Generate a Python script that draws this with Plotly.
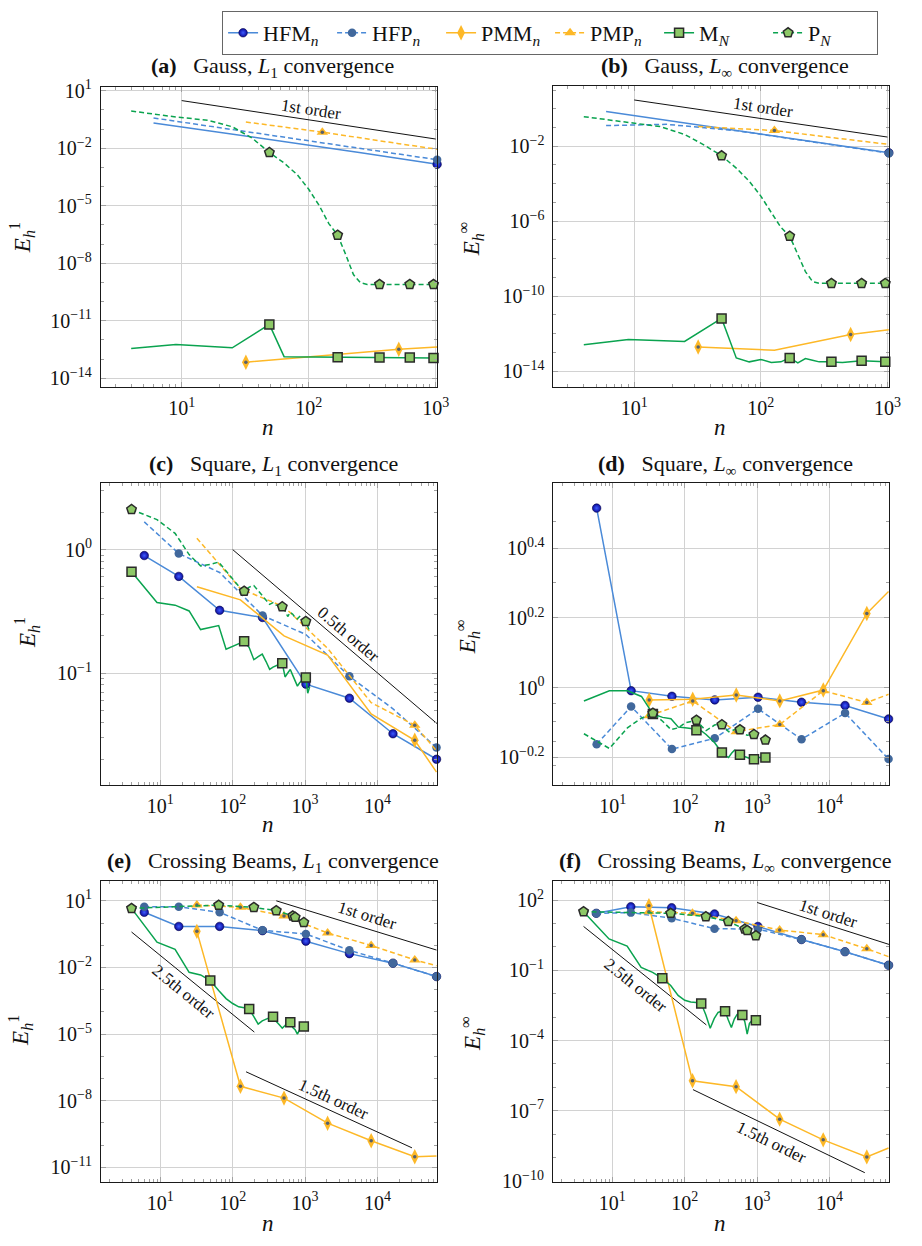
import plotly.graph_objects as go

FONT = "Liberation Serif"
BLUE = "#4a8ad8"
ORANGE = "#fdb827"
GREEN = "#0aa34f"
LGREEN = "#8dc867"
W, H = 922, 1246

# ---------------- data (n values, log10 of the error) ----------------
n_hf = [6, 18, 66, 258, 1026, 4098, 16386, 65538]
n_hf_gauss = [6, 18, 66, 258, 1026]
n_pm = [32, 128, 512, 2048, 8192, 32768, 65536]
n_pm_gauss = [32, 128, 512, 1024]
n_mn_a = [4, 9, 25, 49, 64, 169, 361, 625, 961]
n_mn_b = [4, 9, 25, 49, 64, 81, 100, 121, 144, 169, 196, 225, 256, 289, 324, 361, 441, 625, 961]
n_pn_gauss = [4, 9, 16, 25, 36, 49, 64, 81, 100, 121, 144, 169, 196, 225, 256, 289, 361, 625, 961]
n_k2 = [4, 9, 16, 25, 36, 49, 64, 81, 100, 121, 144, 169, 196, 225, 256, 289, 324, 361, 400,
        441, 484, 529, 576, 625, 676, 729, 784, 841, 900, 961, 1024, 1089, 1156, 1225, 1296]
n_mn_c = n_k2[:33]
n_mn_d = n_k2[:35]
n_mn_beams = n_k2[:30]
n_pn_beams = [4, 64, 196, 400, 676, 729, 961]

# (a) Gauss L1
a_HFM = [-0.68, -1.13, -1.67, -2.23, -2.84]
a_HFP = [-0.42, -0.89, -1.44, -2.01, -2.60]
a_PMM = [-13.16, -12.82, -12.48, -12.36]
a_PMP = [-0.63, -1.16, -1.76, -2.05]
a_MN = [-12.44, -12.24, -12.41, -11.19, -12.87, -12.90, -12.92, -12.92, -12.94]
a_PN = [-0.06, -0.37, -0.54, -0.88, -1.48, -2.22, -2.77, -3.37, -4.14, -4.99, -5.93, -6.53,
        -7.56, -8.59, -9.02, -9.10, -9.10, -9.10, -9.10]
a_ref_n = [10, 1000]
a_ref = [0.486, -1.52]

# (b) Gauss Linf
b_HFM = [-0.145, -0.617, -1.177, -1.76, -2.35]
b_HFP = [-0.896, -0.83, -1.18, -1.76, -2.37]
b_PMM = [-12.72, -12.89, -12.05, -11.79]
b_PMP = [-0.95, -1.16, -1.66, -1.90]
b_MN = [-12.60, -12.32, -12.42, -11.19, -13.30, -13.51, -13.38, -13.54, -13.51, -13.30, -13.56,
        -13.33, -13.42, -13.51, -13.51, -13.51, -13.54, -13.45, -13.51]
b_PN = [-0.42, -0.72, -0.95, -1.37, -1.95, -2.51, -3.17, -3.87, -4.66, -5.54, -6.33, -6.80,
        -7.73, -8.69, -9.22, -9.32, -9.32, -9.32, -9.32]
b_ref_n = [10, 1000]
b_ref = [0.47, -1.51]

# (c) Square L1
c_HFM = [-0.048, -0.217, -0.492, -0.550, -1.090, -1.204, -1.492, -1.699]
c_HFP = [0.225, -0.032, -0.185, -0.534, -0.688, -1.027, -1.29, -1.604]
c_PMM = [-0.301, -0.407, -0.699, -0.854, -1.332, -1.545, -1.803]
c_PMP = [0.093, -0.317, -0.463, -0.80, -1.24, -1.423, -1.63]
c_MN = [-0.180, -0.429, -0.450, -0.497, -0.648, -0.632, -0.616, -0.807, -0.783, -0.759, -0.743,
        -0.794, -0.892, -0.868, -0.847, -0.907, -0.971, -0.952, -0.937, -0.929, -0.921, -1.032,
        -1.000, -0.971, -1.019, -1.063, -1.106, -1.079, -1.058, -1.045, -1.037, -1.164, -1.111]
c_PN = [0.325, 0.243, 0.132, -0.040, -0.132, -0.119, -0.101, -0.172, -0.238, -0.296, -0.336,
        -0.304, -0.291, -0.331, -0.370, -0.410, -0.444, -0.429, -0.450, -0.455, -0.463, -0.497,
        -0.542, -0.508, -0.524, -0.550, -0.561, -0.542, -0.561, -0.577, -0.582, -0.622, -0.661]
c_ref_n = [100, 66500]
c_ref = [0.0, -1.41]

# (d) Square Linf
d_HFM = [0.515, -0.0085, -0.0245, -0.0349, -0.0273, -0.0415, -0.0509, -0.0895]
d_HFP = [-0.162, -0.0537, -0.176, -0.145, -0.0603, -0.148, -0.0726, -0.2045]
d_PMM = [-0.0349, -0.033, -0.0207, -0.0377, -0.0066, 0.213, 0.276]
d_PMP = [-0.08, -0.0377, -0.126, -0.1056, -0.0085, -0.0424, -0.0189]
d_MN = [-0.038, -0.0085, -0.0085, -0.025, -0.075, -0.085, -0.089, -0.113, -0.115, -0.117,
        -0.122, -0.124, -0.134, -0.146, -0.157, -0.172, -0.186, -0.195, -0.200, -0.188, -0.179,
        -0.183, -0.192, -0.195, -0.198, -0.200, -0.203, -0.205, -0.205, -0.202, -0.200, -0.200,
        -0.200, -0.200, -0.200]
d_PN = [-0.132, -0.174, -0.115, -0.087, -0.073, -0.096, -0.120, -0.115, -0.101, -0.096, -0.093,
        -0.110, -0.123, -0.115, -0.107, -0.105, -0.106, -0.115, -0.126, -0.124, -0.120, -0.123,
        -0.120, -0.126, -0.134, -0.136, -0.134, -0.134, -0.134, -0.139, -0.143, -0.145, -0.147,
        -0.148, -0.150]

# (e) Crossing beams L1
e_HFM = [0.483, -0.152, -0.152, -0.344, -0.817, -1.378, -1.806, -2.41]
e_HFP = [0.734, 0.734, 0.483, -0.329, -0.492, -1.23, -1.806, -2.41]
e_PMM = [-0.374, -7.35, -7.88, -9.01, -9.80, -10.52, -10.49]
e_PMP = [0.808, 0.705, 0.321, -0.448, -1.009, -1.659, -1.925]
e_MN = [0.660, -0.861, -1.186, -2.220, -2.338, -2.589, -3.032, -3.402, -3.623, -3.771, -3.815,
        -3.874, -4.214, -4.554, -4.406, -4.318, -4.258, -4.214, -4.436, -4.583, -4.731, -4.613,
        -4.465, -4.465, -4.702, -4.805, -4.997, -4.805, -4.702, -4.657]
e_PN = [0.660, 0.808, 0.705, 0.557, 0.321, 0.261, 0.025]
e_ref1_n = [400, 65536]
e_ref1 = [1.0, -1.216]
e_ref25_n = [4, 199]
e_ref25 = [-0.403, -4.908]
e_ref15_n = [153, 30000]
e_ref15 = [-6.696, -10.12]

# (f) Crossing beams Linf
f_HFM = [1.439, 1.719, 1.677, 1.411, 0.877, 0.316, -0.204, -0.779]
f_HFP = [1.439, 1.467, 1.228, 0.779, 0.765, 0.316, -0.204, -0.779]
f_PMM = [1.761, -5.719, -5.972, -7.361, -8.246, -8.975, -8.596]
f_PMP = [1.509, 1.439, 1.116, 0.723, 0.526, -0.077, -0.414]
f_MN = [1.509, 0.344, 0.035, -0.877, -1.088, -1.340, -1.649, -2.070, -2.281, -2.351, -2.379,
        -2.421, -2.912, -3.474, -3.053, -2.800, -2.744, -2.744, -3.123, -3.446, -3.081, -2.884,
        -2.884, -2.912, -3.193, -3.726, -3.263, -3.165, -3.137, -3.137]
f_PN = [1.509, 1.439, 1.298, 1.088, 0.765, 0.709, 0.484]
f_ref1_n = [1000, 67000]
f_ref1 = [1.90, 0.105]
f_ref25_n = [4, 199]
f_ref25 = [0.877, -3.333]
f_ref15_n = [130, 30760]
f_ref15 = [-6.098, -9.649]

legend_names = ["HFM<sub><i>n</i></sub>", "HFP<sub><i>n</i></sub>", "PMM<sub><i>n</i></sub>",
                "PMP<sub><i>n</i></sub>", "M<sub><i>N</i></sub>", "P<sub><i>N</i></sub>"]

# ---------------- styles ----------------
STY = {
    "HFM": dict(color=BLUE, dash="solid", symbol="circle", mcolor="#0b0b9a", mline="#05054a",
                mlw=0.6, size=8.5, grad="#3d5bff", dot=False),
    "HFP": dict(color=BLUE, dash="5px,3px", symbol="circle", mcolor="#41689c", mline="#41689c",
                mlw=0, size=8.5, grad=None, dot=False),
    "PMM": dict(color=ORANGE, dash="solid", symbol="diamond-tall", mcolor=ORANGE, mline=ORANGE,
                mlw=0, size=11, grad=None, dot=True),
    "PMP": dict(color=ORANGE, dash="5px,3px", symbol="triangle-up", mcolor=ORANGE, mline=ORANGE,
                mlw=0, size=10, grad=None, dot=True),
    "MN": dict(color=GREEN, dash="solid", symbol="square", mcolor=LGREEN, mline="#2a2a2a",
               mlw=1.5, size=9, grad=None, dot=False),
    "PN": dict(color=GREEN, dash="5px,3px", symbol="pentagon", mcolor=LGREEN, mline="#2a2a2a",
               mlw=1.5, size=10, grad=None, dot=False),
}
KEYS = ["HFM", "HFP", "PMM", "PMP", "MN", "PN"]


def marker_dict(st):
    m = dict(symbol=st["symbol"], color=st["mcolor"], size=st["size"],
             line=dict(color=st["mline"], width=st["mlw"]))
    if st["grad"]:
        m["gradient"] = dict(type="radial", color=st["grad"])
    return m


fig = go.Figure()

# ---------------- panel geometry (pixels) ----------------
PANELS = {
    "a": dict(px=(102, 443), py=(79, 384), xr=(0.362, 3.012), yr=(-14.46, 1.205)),
    "b": dict(px=(560.7, 900.7), py=(78.3, 384), xr=(0.362, 3.012), yr=(-14.86, 1.21)),
    "c": dict(px=(102.3, 442.7), py=(481.7, 787.7), xr=(0.18, 4.822), yr=(-1.905, 0.537)),
    "d": dict(px=(560.7, 900.7), py=(481.7, 787.7), xr=(0.18, 4.822), yr=(-0.278, 0.586)),
    "e": dict(px=(102.3, 442.7), py=(886, 1191), xr=(0.18, 4.822), yr=(-11.65, 1.87)),
    "f": dict(px=(560.3, 900.7), py=(885, 1191), xr=(0.18, 4.822), yr=(-10.04, 2.84)),
}
ORDER = ["a", "b", "c", "d", "e", "f"]
AX = {}
for i, p in enumerate(ORDER):
    s = "" if i == 0 else str(i + 1)
    AX[p] = ("x" + s, "y" + s, "xaxis" + s, "yaxis" + s)


def sup(e):
    t = str(e).replace("-", "\u2212")
    return "10<sup>" + t + "</sup>"


x_major_gauss = [1, 2, 3]
x_major = [1, 2, 3, 4]
Y_MAJOR = {
    "a": [1, -2, -5, -8, -11, -14],
    "b": [-2, -6, -10, -14],
    "c": [0, -1],
    "d": [0.4, 0.2, 0, -0.2],
    "e": [1, -2, -5, -8, -11],
    "f": [2, -1, -4, -7, -10],
}

minor_x = [m * 10 ** e for e in range(0, 5) for m in range(2, 10)]
minor_y_dec = {
    "a": [10.0 ** e for e in range(-15, 2) if e not in Y_MAJOR["a"]],
    "b": [10.0 ** e for e in range(-15, 2) if e not in Y_MAJOR["b"]],
    "c": [m * 10.0 ** e for e in range(-2, 1) for m in range(2, 10)],
    "d": [0.6, 0.7, 0.8, 0.9, 2, 3],
    "e": [10.0 ** e for e in range(-12, 2) if e not in Y_MAJOR["e"]],
    "f": [10.0 ** e for e in range(-11, 3) if e not in Y_MAJOR["f"]],
}

layout_axes = {}
for p in ORDER:
    g = PANELS[p]
    xn, yn, xk, yk = AX[p]
    xd = [g["px"][0] / W, g["px"][1] / W]
    yd = [1 - g["py"][1] / H, 1 - g["py"][0] / H]
    xm = x_major_gauss if p in ("a", "b") else x_major
    common = dict(type="log", showline=True, linecolor="#1a1a1a", linewidth=1, mirror="allticks",
                  ticks="inside", ticklen=5, tickcolor="#a0a0a0", showgrid=True,
                  gridcolor="#d2d2d2", gridwidth=1, zeroline=False,
                  tickfont=dict(family=FONT, size=20, color="#111"))
    layout_axes[xk] = dict(common, domain=xd, range=list(g["xr"]), anchor=yn,
                           tickvals=[10 ** e for e in xm], ticktext=[sup(e) for e in xm],
                           ticklabelstandoff=3,
                           minor=dict(tickvals=minor_x, ticks="inside", ticklen=3,
                                      tickcolor="#a0a0a0", showgrid=False))
    layout_axes[yk] = dict(common, domain=yd, range=list(g["yr"]), anchor=xn,
                           tickvals=[10 ** e for e in Y_MAJOR[p]],
                           ticktext=[sup(e) for e in Y_MAJOR[p]], ticklabelstandoff=4,
                           minor=dict(tickvals=minor_y_dec[p], ticks="inside", ticklen=3,
                                      tickcolor="#a0a0a0", showgrid=False))


def add_ref(p, n, logE):
    xn, yn, _, _ = AX[p]
    fig.add_trace(go.Scatter(x=n, y=[10 ** v for v in logE], mode="lines",
                             line=dict(color="#111", width=1), xaxis=xn, yaxis=yn,
                             showlegend=False, hoverinfo="skip"))


def add_series(p, key, n, logE, marks):
    st = STY[key]
    xn, yn, _, _ = AX[p]
    E = [10 ** v for v in logE]
    fig.add_trace(go.Scatter(x=n, y=E, mode="lines",
                             line=dict(color=st["color"], width=1.5, dash=st["dash"]),
                             xaxis=xn, yaxis=yn, showlegend=False, hoverinfo="skip"))
    if marks:
        mx = [n[i] for i in marks]
        my = [E[i] for i in marks]
        fig.add_trace(go.Scatter(x=mx, y=my, mode="markers", marker=marker_dict(st),
                                 cliponaxis=False, xaxis=xn, yaxis=yn, showlegend=False,
                                 hoverinfo="skip"))
        if st["dot"]:
            fig.add_trace(go.Scatter(x=mx, y=my, mode="markers",
                                     marker=dict(symbol="circle", color="#56606e", size=3.5),
                                     cliponaxis=False, xaxis=xn, yaxis=yn, showlegend=False,
                                     hoverinfo="skip"))


# reference slopes
add_ref("a", a_ref_n, a_ref)
add_ref("b", b_ref_n, b_ref)
add_ref("c", c_ref_n, c_ref)
add_ref("e", e_ref1_n, e_ref1)
add_ref("e", e_ref25_n, e_ref25)
add_ref("e", e_ref15_n, e_ref15)
add_ref("f", f_ref1_n, f_ref1)
add_ref("f", f_ref25_n, f_ref25)
add_ref("f", f_ref15_n, f_ref15)

# (a)
add_series("a", "HFM", n_hf_gauss, a_HFM, [4])
add_series("a", "HFP", n_hf_gauss, a_HFP, [4])
add_series("a", "PMM", n_pm_gauss, a_PMM, [0, 2])
add_series("a", "PMP", n_pm_gauss, a_PMP, [1])
add_series("a", "MN", n_mn_a, a_MN, [3, 5, 6, 7, 8])
add_series("a", "PN", n_pn_gauss, a_PN, [5, 11, 16, 17, 18])
# (b)
add_series("b", "HFM", n_hf_gauss, b_HFM, [4])
add_series("b", "HFP", n_hf_gauss, b_HFP, [4])
add_series("b", "PMM", n_pm_gauss, b_PMM, [0, 2])
add_series("b", "PMP", n_pm_gauss, b_PMP, [1])
add_series("b", "MN", n_mn_b, b_MN, [3, 9, 15, 17, 18])
add_series("b", "PN", n_pn_gauss, b_PN, [5, 11, 16, 17, 18])
# (c)
add_series("c", "HFM", n_hf, c_HFM, list(range(8)))
add_series("c", "HFP", n_hf, c_HFP, [1, 3, 5, 7])
add_series("c", "PMM", n_pm, c_PMM, [5])
add_series("c", "PMP", n_pm, c_PMP, [5])
add_series("c", "MN", n_mn_c, c_MN, [0, 10, 20, 30])
add_series("c", "PN", n_mn_c, c_PN, [0, 10, 20, 30])
# (d)
add_series("d", "HFM", n_hf, d_HFM, list(range(8)))
add_series("d", "HFP", n_hf, d_HFP, list(range(8)))
add_series("d", "PMM", n_pm, d_PMM, list(range(6)))
add_series("d", "PMP", n_pm, d_PMP, list(range(6)))
add_series("d", "MN", n_mn_d, d_MN, [4, 10, 16, 22, 28, 34])
add_series("d", "PN", n_mn_d, d_PN, [4, 10, 16, 22, 28, 34])
# (e)
add_series("e", "HFM", n_hf, e_HFM, list(range(8)))
add_series("e", "HFP", n_hf, e_HFP, list(range(8)))
add_series("e", "PMM", n_pm, e_PMM, list(range(6)))
add_series("e", "PMP", n_pm, e_PMP, list(range(6)))
add_series("e", "MN", n_mn_beams, e_MN, [5, 11, 17, 23, 29])
add_series("e", "PN", n_pn_beams, e_PN, list(range(7)))
# (f)
add_series("f", "HFM", n_hf, f_HFM, list(range(8)))
add_series("f", "HFP", n_hf, f_HFP, list(range(8)))
add_series("f", "PMM", n_pm, f_PMM, list(range(6)))
add_series("f", "PMP", n_pm, f_PMP, list(range(6)))
add_series("f", "MN", n_mn_beams, f_MN, [5, 11, 17, 23, 29])
add_series("f", "PN", n_pn_beams, f_PN, list(range(7)))

# legend entries
for key, name in zip(KEYS, legend_names):
    st = STY[key]
    fig.add_trace(go.Scatter(x=[None], y=[None], mode="lines+markers", name=name,
                             line=dict(color=st["color"], width=1.5, dash=st["dash"]),
                             marker=marker_dict(st), xaxis="x", yaxis="y", showlegend=True))

# ---------------- annotations ----------------
ann = []
TITLES = {
    "a": ("(a)", "Gauss, <i>L</i><sub>1</sub> convergence", 276, 59),
    "b": ("(b)", "Gauss, <i>L</i><sub>\u221e</sub> convergence", 735, 59),
    "c": ("(c)", "Square, <i>L</i><sub>1</sub> convergence", 276.7, 463.3),
    "d": ("(d)", "Square, <i>L</i><sub>\u221e</sub> convergence", 735, 463.3),
    "e": ("(e)", "Crossing Beams, <i>L</i><sub>1</sub> convergence", 276.7, 866),
    "f": ("(f)", "Crossing Beams, <i>L</i><sub>\u221e</sub> convergence", 735, 866),
}
for p, (lab, txt, x, y) in TITLES.items():
    ann.append(dict(text="<b>" + lab + "</b>\u2002 " + txt, x=x / W, y=1 - y / H, xref="paper",
                    yref="paper", showarrow=False, xanchor="center", yanchor="middle",
                    font=dict(family=FONT, size=22, color="#111")))

YT = {"a": ("1", 22, 232), "b": ("\u221e", 477, 233), "c": ("1", 27, 633),
      "d": ("\u221e", 473, 637), "e": ("1", 20, 1037), "f": ("\u221e", 478, 1040)}
for p, (s, x, y) in YT.items():
    ann.append(dict(text="<i>E</i><sub><i>h</i></sub><sup>" + s + "</sup>", x=x / W,
                    y=1 - y / H, xref="paper", yref="paper", showarrow=False, textangle=-90,
                    xanchor="center", yanchor="middle",
                    font=dict(family=FONT, size=23, color="#111")))
XT = {"a": (272, 425), "b": (730, 425), "c": (272, 828), "d": (730, 828), "e": (272, 1233),
      "f": (730, 1233)}
for p, (x, y) in XT.items():
    ann.append(dict(text="<i>n</i>", x=x / W, y=1 - y / H, xref="paper", yref="paper",
                    showarrow=False, xanchor="center", yanchor="middle",
                    font=dict(family=FONT, size=23, color="#111")))

REFLAB = [("1st order", 315, 101.7, 8.6), ("1st order", 773.3, 100, 8.3),
          ("0.5th order", 353.3, 635, 40.5), ("1st order", 371.7, 921, 17.1),
          ("2.5th order", 185.5, 998, 39.3), ("1.5th order", 338.3, 1107.5, 24.7),
          ("1st order", 838.5, 919, 17.7), ("2.5th order", 644, 992, 38.8),
          ("1.5th order", 782, 1151, 25.9)]
for txt, x, y, ang in REFLAB:
    ann.append(dict(text=txt, x=x / W, y=1 - y / H, xref="paper", yref="paper",
                    showarrow=False, textangle=ang, xanchor="center", yanchor="middle",
                    font=dict(family=FONT, size=17, color="#111")))

fig.update_layout(
    width=W, height=H, autosize=False,
    margin=dict(l=0, r=0, t=0, b=0),
    paper_bgcolor="white", plot_bgcolor="white",
    font=dict(family=FONT, size=20, color="#111"),
    showlegend=True,
    legend=dict(orientation="h", x=225 / W, y=1 - 2 / H, xanchor="left", yanchor="top",
                bordercolor="#666", borderwidth=1, bgcolor="white",
                font=dict(family=FONT, size=22, color="#111"), itemwidth=30,
                entrywidth=64, entrywidthmode="pixels", tracegroupgap=0),
    annotations=ann,
    **layout_axes,
)

fig.write_html("out.html")
